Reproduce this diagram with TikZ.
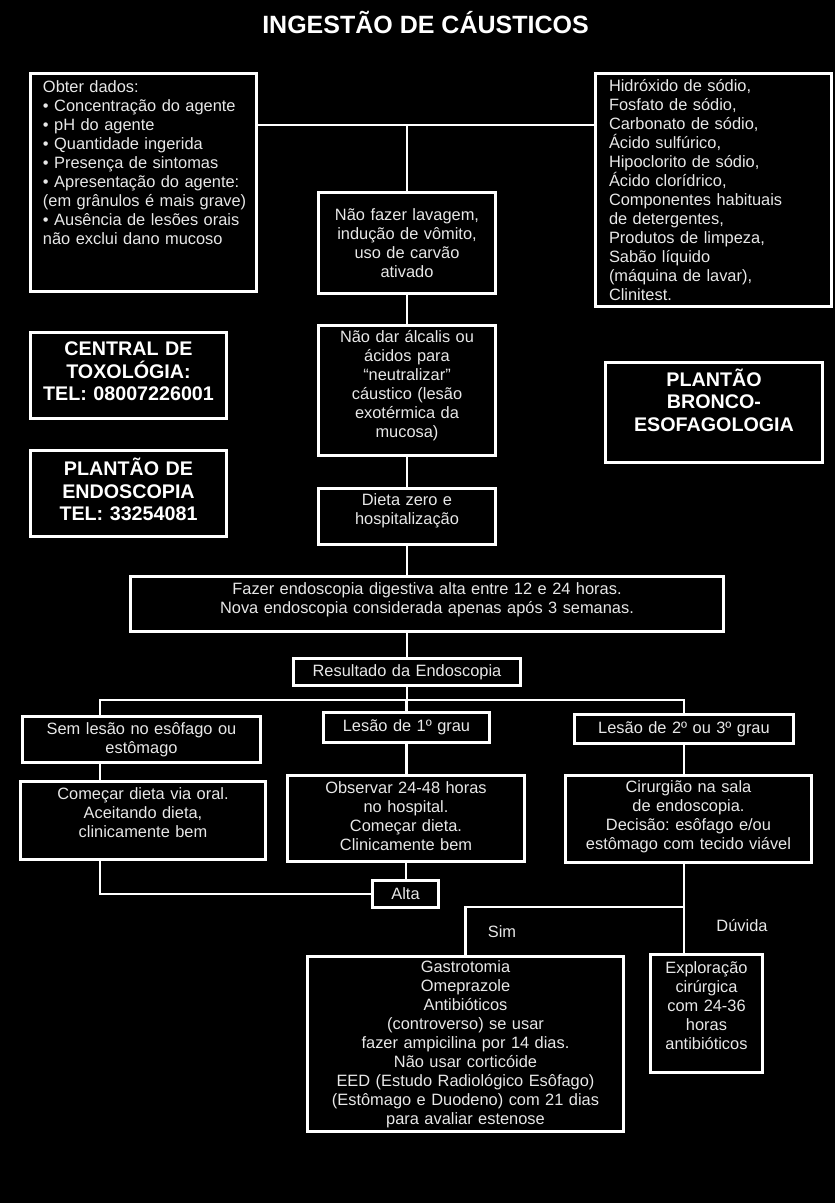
\documentclass[tikz,border=0pt]{standalone}
\usepackage{fontspec}
\setmainfont{Liberation Sans}
\frenchspacing
\definecolor{txt}{RGB}{232,232,232}
\newcommand\lift[1]{\par\kern #1\relax}
\begin{document}
\begin{tikzpicture}[x=1pt,y=-1pt,
  box/.style={draw=white, line width=2.8pt, fill=black, text=txt, inner sep=0pt, align=center, font=\fontsize{16.4}{19}\selectfont\frenchspacing},
  bbox/.style={box, text=white, font=\fontsize{19.7}{22.5}\selectfont\bfseries},
  conn/.style={draw=white, line width=2.8pt},
  lbl/.style={text=txt, inner sep=0pt, font=\fontsize{16.4}{19}\selectfont}]
\path[use as bounding box, fill=black] (0,0) rectangle (835,1203);

\node[text=white, inner sep=0pt, anchor=base, font=\fontsize{25}{30}\selectfont\bfseries] (title) at (425.5,33.3) {INGESTÃO DE CÁUSTICOS};

\node[box, align=left, text width=226pt, minimum width=226pt, minimum height=218pt] (obter) at (143.5,182.5)
 {\leftskip=12.5pt Obter dados:\\ • Concentração do agente\\ • pH do agente\\ • Quantidade ingerida\\ • Presença de sintomas\\ • Apresentação do agente:\\ (em grânulos é mais grave)\\ • Ausência de lesões orais\\ não exclui dano mucoso\lift{39pt}};

\node[box, align=left, text width=236pt, minimum width=236pt, minimum height=233pt] (agents) at (713.5,190)
 {\leftskip=13.5pt Hidróxido de sódio,\\ Fosfato de sódio,\\ Carbonato de sódio,\\ Ácido sulfúrico,\\ Hipoclorito de sódio,\\ Ácido clorídrico,\\ Componentes habituais\\ de detergentes,\\ Produtos de limpeza,\\ Sabão líquido\\ (máquina de lavar),\\ Clinitest.\lift{0pt}};

\node[box, text width=177pt, minimum width=177pt, minimum height=101pt] (naofazer) at (407,243)
 {Não fazer lavagem,\\ indução de vômito,\\ uso de carvão\\ ativado};

\node[box, text width=177pt, minimum width=177pt, minimum height=130pt] (naodar) at (407,390.5)
 {Não dar álcalis ou\\ ácidos para\\ “neutralizar”\\ cáustico (lesão\\ exotérmica da\\ mucosa)\lift{9pt}};

\node[box, text width=177pt, minimum width=177pt, minimum height=56pt] (dieta) at (407,516.5)
 {Dieta zero e\\ hospitalização\lift{11pt}};

\node[box, text width=593pt, minimum width=593pt, minimum height=55pt] (fazer) at (427,604)
 {Fazer endoscopia digestiva alta entre 12 e 24 horas.\\ Nova endoscopia considerada apenas após 3 semanas.\lift{8pt}};

\node[box, text width=227pt, minimum width=227pt, minimum height=27pt] (resultado) at (407,672)
 {Resultado da Endoscopia};

\node[box, text width=238pt, minimum width=238pt, minimum height=46pt] (semlesao) at (141.5,739.5)
 {Sem lesão no esôfago ou\\ estômago};

\node[box, text width=166pt, minimum width=166pt, minimum height=30pt] (lesao1) at (406.5,727.5)
 {Lesão de 1º grau};

\node[box, text width=219pt, minimum width=219pt, minimum height=29pt] (lesao2) at (684,729)
 {Lesão de 2º ou 3º grau};

\node[box, text width=245pt, minimum width=245pt, minimum height=78pt] (comecar) at (143,820.5)
 {Começar dieta via oral.\\ Aceitando dieta,\\ clinicamente bem\lift{16pt}};

\node[box, text width=237pt, minimum width=237pt, minimum height=86pt] (observar) at (406,818.5)
 {Observar 24-48 horas\\ no hospital.\\ Começar dieta.\\ Clinicamente bem\lift{4pt}};

\node[box, text width=246pt, minimum width=246pt, minimum height=87pt] (cirurgiao) at (688.5,819)
 {Cirurgião na sala\\ de endoscopia.\\ Decisão: esôfago e/ou\\ estômago com tecido viável\lift{5pt}};

\node[box, text width=66pt, minimum width=66pt, minimum height=27pt] (alta) at (405.5,894)
 {Alta};

\node[box, text width=316pt, minimum width=316pt, minimum height=175pt] (gastro) at (465.5,1044)
 {Gastrotomia\\ Omeprazole\\ Antibióticos\\ (controverso) se usar\\ fazer ampicilina por 14 dias.\\ Não usar corticóide\\ EED (Estudo Radiológico Esôfago)\\ (Estômago e Duodeno) com 21 dias\\ para avaliar estenose};

\node[box, text width=112pt, minimum width=112pt, minimum height=118pt] (exploracao) at (706.5,1013.5)
 {Exploração\\ cirúrgica\\ com 24-36\\ horas\\ antibióticos\lift{15pt}};

\node[bbox, text width=196pt, minimum width=196pt, minimum height=86pt] (central) at (128.5,375.5)
 {CENTRAL DE\\ TOXOLÓGIA:\\ TEL: 08007226001\lift{8pt}};

\node[bbox, text width=196pt, minimum width=196pt, minimum height=86pt] (endoplantao) at (128.5,493.5)
 {PLANTÃO DE\\ ENDOSCOPIA\\ TEL: 33254081\lift{8pt}};

\node[bbox, text width=217pt, minimum width=217pt, minimum height=100pt] (bronco) at (714,412.5)
 {PLANTÃO\\ BRONCO-\\ ESOFAGOLOGIA\lift{25pt}};

\node[lbl] (sim) at (502,932) {Sim};
\node[lbl] (duvida) at (742,926) {Dúvida};

\coordinate (j1) at (407,125);
\coordinate (j2) at (407,700);
\coordinate (bl) at (100,700);
\coordinate (j3) at (684,907);

\draw[conn] (obter.east |- j1) -- (agents.west |- j1);
\draw[conn] (j1) -- (naofazer.north);
\draw[conn] (naofazer.south) -- (naodar.north);
\draw[conn] (naodar.south) -- (dieta.north);
\draw[conn] (dieta.south) -- (dieta.south |- fazer.north);
\draw[conn] (fazer.south -| resultado.north) -- (resultado.north);
\draw[conn] (resultado.south) -- (j2);
\draw[conn] (semlesao.north -| bl) -- (bl) -- (lesao2.north |- bl) -- (lesao2.north);
\draw[conn] (lesao1.north |- j2) -- (lesao1.north);
\draw[conn] (semlesao.south -| bl) -- (comecar.north -| bl);
\draw[conn] (lesao1.south) -- (lesao1.south |- observar.north);
\draw[conn] (lesao2.south) -- (lesao2.south |- cirurgiao.north);
\draw[conn] (comecar.south -| bl) -- (bl |- alta.west) -- (alta.west);
\draw[conn] (observar.south) -- (observar.south |- alta.north);
\draw[conn] (cirurgiao.south -| j3) -- (exploracao.north -| j3);
\draw[conn] (j3) -- (gastro.north |- j3) -- (gastro.north);
\end{tikzpicture}
\end{document}
